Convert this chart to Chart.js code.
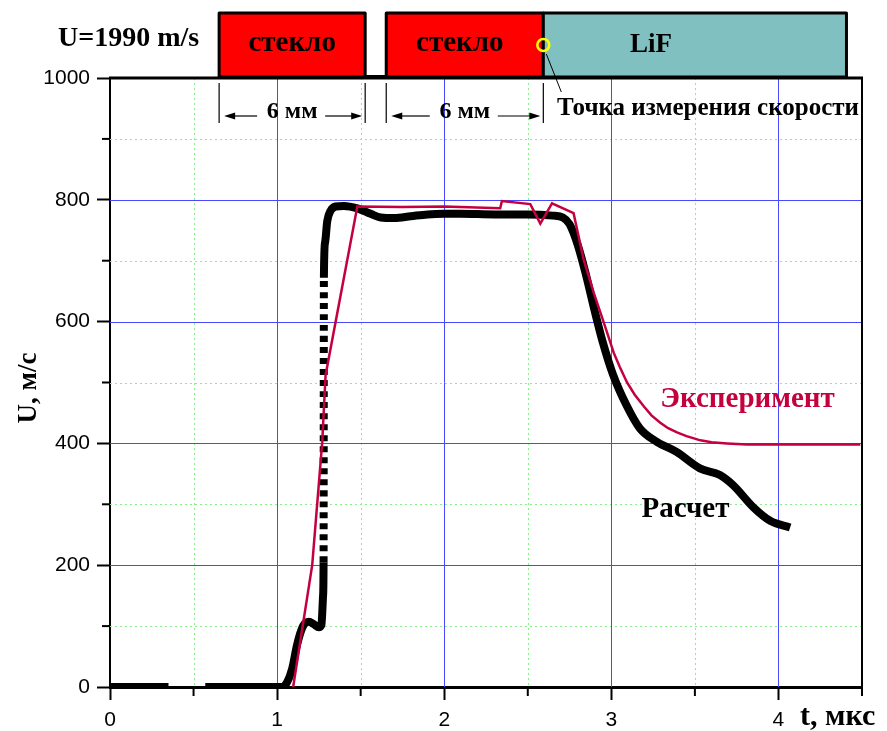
<!DOCTYPE html>
<html>
<head>
<meta charset="utf-8">
<script src="https://cdn.jsdelivr.net/npm/chart.js@4.4.0/dist/chart.umd.min.js"></script>
<style>
  html, body { margin: 0; padding: 0; background: #fff; }
  #wrap { width: 887px; height: 731px; }
</style>
</head>
<body>
<div id="wrap"><canvas id="shockChart" width="887" height="731"></canvas></div>
<script>
// Расчет: time, мкс / velocity, м/с (null = break in the trace)
const tCalc = [0, 0.35, 0.46, 0.57, 1.03, 1.06, 1.09, 1.12, 1.155, 1.19, 1.22, 1.25, 1.265, 1.275, 1.278,
  1.28, 1.287, 1.30, 1.32, 1.35, 1.40, 1.48, 1.56, 1.62, 1.70, 1.80, 1.90, 2.0, 2.1, 2.3, 2.5, 2.65,
  2.71, 2.75, 2.80, 2.85, 2.90, 2.95, 3.01, 3.09, 3.17, 3.27, 3.39, 3.53, 3.65, 3.73, 3.85, 3.95, 4.07];
const uCalc = [0, 0, null, 0, 0, 8, 30, 70, 100, 107, 103, 98, 102, 150, 205,
  672, 730, 765, 782, 789, 790, 786, 777, 771, 770, 773, 776, 777, 777, 776, 776, 774,
  771, 760, 725, 675, 618, 565, 513, 463, 425, 403, 386, 359, 348, 331, 295, 273, 262];

// Эксперимент
const tExp = [1.096, 1.21, 1.27, 1.29, 1.48, 1.75, 2.0, 2.335, 2.345, 2.515, 2.575, 2.645, 2.774,
  2.834, 2.894, 2.954, 3.014, 3.05, 3.094, 3.14, 3.194, 3.24, 3.293, 3.34, 3.393, 3.45, 3.533, 3.60,
  3.693, 3.812, 4.0, 4.49];
const uExp = [0, 200, 402, 512, 789, 788, 789, 786, 798, 793, 761, 794, 778,
  702, 648, 599, 549, 526, 500, 480, 461, 446, 434, 425, 418, 412, 405, 402,
  400, 398, 398, 398];

// axis ticks
const xMajor = [0, 1, 2, 3, 4];
const xMinor = [0.5, 1.5, 2.5, 3.5, 4.5];
const yMajor = [0, 200, 400, 600, 800, 1000];
const yMinor = [100, 300, 500, 700, 900];

const RED = '#C4003F';
const serif = '"Liberation Serif", "Times New Roman", serif';
const sans = '"Liberation Sans", Arial, sans-serif';

function arrow(ctx, x1, x2, y) {
  const dir = Math.sign(x2 - x1);
  ctx.beginPath();
  ctx.moveTo(x1, y);
  ctx.lineTo(x2 - dir * 8, y);
  ctx.stroke();
  ctx.beginPath();
  ctx.moveTo(x2, y);
  ctx.lineTo(x2 - dir * 11, y - 3.5);
  ctx.lineTo(x2 - dir * 11, y + 3.5);
  ctx.closePath();
  ctx.fill();
}

function gridLines(ctx, a, x, y, xs, ys) {
  xs.forEach(v => {
    if (v <= x.min || v >= x.max) return;
    const px = Math.round(x.getPixelForValue(v)) + 0.5;
    ctx.beginPath(); ctx.moveTo(px, a.top); ctx.lineTo(px, a.bottom); ctx.stroke();
  });
  ys.forEach(v => {
    if (v <= y.min || v >= y.max) return;
    const py = Math.round(y.getPixelForValue(v)) + 0.5;
    ctx.beginPath(); ctx.moveTo(a.left, py); ctx.lineTo(a.right, py); ctx.stroke();
  });
}

const scheme = {
  id: 'scheme',
  beforeDatasetsDraw(chart) {
    const {ctx, chartArea: a, scales: {x, y}} = chart;
    ctx.save();
    ctx.lineWidth = 1;
    ctx.strokeStyle = '#8AEE8A';
    ctx.setLineDash([2, 3]);
    gridLines(ctx, a, x, y, xMinor, yMinor);
    ctx.setLineDash([]);
    ctx.strokeStyle = '#4848FF';
    gridLines(ctx, a, x, y, xMajor, yMajor);
    ctx.restore();
  },
  afterDraw(chart) {
    const {ctx, chartArea: a, scales: {x, y}} = chart;
    ctx.save();

    // frame and minor ticks
    ctx.strokeStyle = '#000';
    ctx.lineWidth = 3;
    ctx.beginPath(); ctx.moveTo(a.left - 1, a.top); ctx.lineTo(a.right + 1, a.top); ctx.stroke();
    ctx.lineWidth = 2;
    ctx.beginPath(); ctx.moveTo(a.right, a.top); ctx.lineTo(a.right, a.bottom); ctx.stroke();
    xMinor.forEach(v => {
      const px = x.getPixelForValue(v);
      ctx.beginPath(); ctx.moveTo(px, a.bottom); ctx.lineTo(px, a.bottom + 9); ctx.stroke();
    });
    yMinor.forEach(v => {
      const py = y.getPixelForValue(v);
      ctx.beginPath(); ctx.moveTo(a.left, py); ctx.lineTo(a.left - 8, py); ctx.stroke();
    });

    // axis titles
    ctx.fillStyle = '#000';
    ctx.font = 'bold 30px ' + serif;
    ctx.textBaseline = 'middle';
    ctx.textAlign = 'left';
    ctx.fillText('t, мкс', 800, 717);
    ctx.save();
    ctx.translate(29, 388);
    ctx.rotate(-Math.PI / 2);
    ctx.textAlign = 'center';
    ctx.font = 'bold 27px ' + serif;
    ctx.fillText('U, м/с', 0, 0);
    ctx.restore();

    // sample layout above the plot
    const g1 = [x.getPixelForValue(0.653), x.getPixelForValue(1.527)];
    const g2 = [x.getPixelForValue(1.653), x.getPixelForValue(2.593)];
    const lif = [g2[1], x.getPixelForValue(4.407)];
    const top = 13, bot = 77;
    ctx.lineWidth = 3;
    ctx.lineJoin = 'round';
    [[g1, '#FF0000'], [g2, '#FF0000'], [lif, '#80C0C0']].forEach(([r, c]) => {
      ctx.fillStyle = c;
      ctx.fillRect(r[0], top, r[1] - r[0], bot - top);
      ctx.strokeRect(r[0], top, r[1] - r[0], bot - top);
    });
    ctx.fillStyle = '#000';
    ctx.fillRect(g1[1], bot - 2, g2[0] - g1[1], 4);

    ctx.font = 'bold 29px ' + serif;
    ctx.textAlign = 'center';
    ctx.fillText('стекло', (g1[0] + g1[1]) / 2, 44);
    ctx.fillText('стекло', (g2[0] + g2[1]) / 2 - 5, 44);
    ctx.font = 'bold 27px ' + serif;
    ctx.fillText('LiF', 651, 45);
    ctx.textAlign = 'left';
    ctx.font = 'bold 28px ' + serif;
    ctx.fillText('U=1990 m/s', 58, 39);

    // measuring point
    ctx.strokeStyle = '#FFFF00';
    ctx.lineWidth = 2.5;
    ctx.beginPath(); ctx.arc(g2[1], 45, 6, 0, Math.PI * 2); ctx.stroke();
    ctx.strokeStyle = '#000';
    ctx.lineWidth = 1;
    ctx.beginPath(); ctx.moveTo(g2[1] + 3, 54); ctx.lineTo(g2[1] + 18, 92); ctx.stroke();

    // 6 мм dimensions
    ctx.lineWidth = 1.2;
    [g1[0], g1[1], g2[0], g2[1]].forEach(px => {
      ctx.beginPath(); ctx.moveTo(px, 83); ctx.lineTo(px, 123); ctx.stroke();
    });
    [g1, g2].forEach(r => {
      const mid = (r[0] + r[1]) / 2;
      arrow(ctx, mid - 35, r[0] + 5, 116);
      arrow(ctx, mid + 33, r[1] - 3, 116);
      ctx.font = 'bold 24px ' + serif;
      ctx.textAlign = 'center';
      ctx.fillText('6 мм', mid, 112);
    });

    ctx.textAlign = 'left';
    ctx.font = 'bold 25px ' + serif;
    ctx.fillText('Точка измерения скорости', 557, 109);

    // series labels
    ctx.font = 'bold 29px ' + serif;
    ctx.fillStyle = RED;
    ctx.fillText('Эксперимент', x.getPixelForValue(3.293), y.getPixelForValue(472));
    ctx.fillStyle = '#000';
    ctx.fillText('Расчет', x.getPixelForValue(3.18), y.getPixelForValue(291));
    ctx.restore();
  }
};

const ctx = document.getElementById('shockChart').getContext('2d');
new Chart(ctx, {
  type: 'line',
  data: {
    datasets: [{
      label: 'Расчет',
      data: tCalc.map((t, i) => ({x: t, y: uCalc[i]})),
      borderColor: '#000',
      borderWidth: 8,
      borderCapStyle: 'butt',
      cubicInterpolationMode: 'monotone',
      pointRadius: 0,
      spanGaps: false,
      order: 2,
      segment: {
        // the fast jump is drawn as a dotted trace
        borderDash: c => (c.p1.parsed.y - c.p0.parsed.y > 300 ? [6, 5] : undefined)
      }
    }, {
      label: 'Эксперимент',
      data: tExp.map((t, i) => ({x: t, y: uExp[i]})),
      borderColor: RED,
      borderWidth: 2.5,
      tension: 0,
      pointRadius: 0,
      order: 1
    }]
  },
  options: {
    responsive: false,
    animation: false,
    devicePixelRatio: 1,
    layout: { padding: { top: 78, right: 25, bottom: 0, left: 0 } },
    plugins: { legend: { display: false }, tooltip: { enabled: false } },
    scales: {
      x: {
        type: 'linear',
        min: 0, max: 4.5,
        afterBuildTicks: s => { s.ticks = xMajor.map(v => ({value: v})); },
        afterFit: s => { s.height = 44; },
        ticks: { font: { family: sans, size: 21 }, color: '#000', padding: 8, maxRotation: 0,
          callback: v => String(v) },
        grid: { drawOnChartArea: false, tickLength: 13, tickColor: '#000', tickWidth: 2 },
        border: { color: '#000', width: 3 }
      },
      y: {
        min: 0, max: 1000,
        afterBuildTicks: s => { s.ticks = yMajor.map(v => ({value: v})); },
        afterFit: s => { s.width = 110; },
        ticks: { font: { family: sans, size: 21 }, color: '#000', padding: 7,
          callback: v => String(v) },
        grid: { drawOnChartArea: false, tickLength: 13, tickColor: '#000', tickWidth: 2 },
        border: { color: '#000', width: 2 }
      }
    }
  },
  plugins: [scheme]
});
</script>
</body>
</html>
